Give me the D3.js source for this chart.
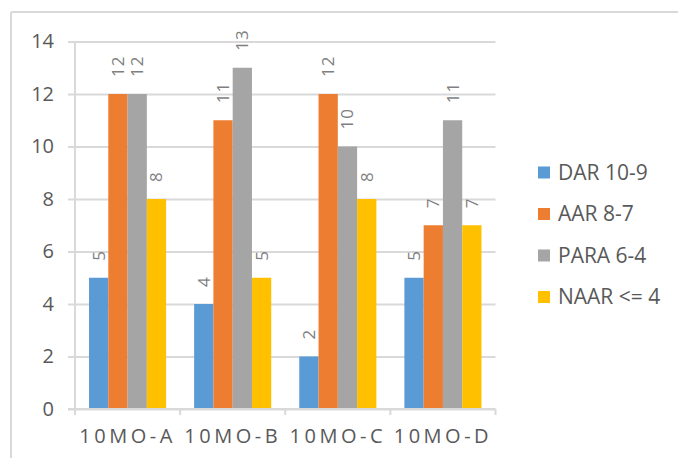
<!DOCTYPE html>
<html>
<head>
<meta charset="utf-8">
<script src="https://cdn.jsdelivr.net/npm/d3@7"></script>
<style>
  html, body { margin: 0; padding: 0; background: #fff; }
  svg { display: block; }
</style>
</head>
<body>
<svg id="chart" width="678" height="458"></svg>
<script>
// Groups along the x axis
const categories = ["10MO-A", "10MO-B", "10MO-C", "10MO-D"];
// Series names (legend order)
const seriesNames = ["DAR 10-9", "AAR 8-7", "PARA 6-4", "NAAR <= 4"];
// Counts per series, one value per category
const darValues  = [5, 4, 2, 5];
const aarValues  = [12, 11, 12, 7];
const paraValues = [12, 13, 10, 11];
const naarValues = [8, 5, 8, 7];
// Y axis ticks
const yTicks = [0, 2, 4, 6, 8, 10, 12, 14];

const seriesColors = ["#5B9BD5", "#ED7D31", "#A5A5A5", "#FFC000"];
const seriesValues = [darValues, aarValues, paraValues, naarValues];

const svg = d3.select("#chart");
const textColor = "#595959";
const gridColor = "#D9D9D9";
const font = "'Open Sans', sans-serif";

// outer frame (top and left edges)
svg.append("line").attr("x1", 11).attr("x2", 678).attr("y1", 12).attr("y2", 12)
  .attr("stroke", gridColor).attr("stroke-width", 2);
svg.append("line").attr("x1", 11).attr("x2", 11).attr("y1", 12).attr("y2", 458)
  .attr("stroke", gridColor).attr("stroke-width", 2);

const plot = { left: 75, right: 495.5, top: 41.5, bottom: 409 };

const x0 = d3.scaleBand().domain(categories).range([plot.left, plot.right]).padding(0);
const x1 = d3.scaleBand().domain(seriesNames).range([0, x0.bandwidth()])
  .paddingInner(0).paddingOuter(0.727);
const y = d3.scaleLinear().domain([0, 14]).range([plot.bottom, plot.top]);

// horizontal gridlines + y axis
const yAxis = d3.axisLeft(y).tickValues(yTicks).tickSize(-(plot.right - plot.left)).tickPadding(14);
const gy = svg.append("g").attr("transform", `translate(${plot.left},0)`).call(yAxis);
gy.select(".domain").remove();
gy.selectAll(".tick line").attr("stroke", gridColor).attr("stroke-width", 2)
  .attr("x1", -7);
gy.selectAll(".tick text").attr("fill", textColor)
  .style("font-family", font).style("font-size", "20px")
  .attr("x", -21);

// vertical axis line
svg.append("line").attr("x1", plot.left).attr("x2", plot.left)
  .attr("y1", plot.top).attr("y2", plot.bottom + 6)
  .attr("stroke", gridColor).attr("stroke-width", 2);

// bars
const groups = svg.append("g").selectAll("g").data(categories).join("g")
  .attr("transform", d => `translate(${x0(d)},0)`);

groups.each(function(cat, ci) {
  const g = d3.select(this);
  seriesNames.forEach((s, si) => {
    const v = seriesValues[si][ci];
    g.append("rect")
      .attr("x", x1(s)).attr("width", x1.bandwidth())
      .attr("y", y(v)).attr("height", y(0) - y(v))
      .attr("fill", seriesColors[si]);
  });
});

// bottom axis with category separators
const xAxis = d3.axisBottom(x0).tickSize(0).tickPadding(20);
const gx = svg.append("g").attr("transform", `translate(0,${plot.bottom})`).call(xAxis);
gx.select(".domain").remove();
gx.selectAll(".tick text").attr("fill", textColor)
  .style("font-family", font).style("font-size", "20px")
  .style("letter-spacing", "3.5px");
svg.append("line").attr("x1", plot.left - 7).attr("x2", plot.right)
  .attr("y1", plot.bottom).attr("y2", plot.bottom)
  .attr("stroke", gridColor).attr("stroke-width", 2);
const bounds = categories.map(c => x0(c)).concat([x0(categories[categories.length - 1]) + x0.bandwidth()]);
svg.append("g").selectAll("line").data(bounds).join("line")
  .attr("x1", d => d).attr("x2", d => d)
  .attr("y1", plot.bottom).attr("y2", plot.bottom + 6)
  .attr("stroke", gridColor).attr("stroke-width", 2);

// rotated value labels
groups.each(function(cat, ci) {
  const g = d3.select(this);
  seriesNames.forEach((s, si) => {
    const v = seriesValues[si][ci];
    const cx = x1(s) + x1.bandwidth() / 2;
    const cy = y(v) - 17;
    g.append("text")
      .attr("transform", `translate(${cx},${cy}) rotate(-90)`)
      .attr("dy", "0.35em")
      .attr("text-anchor", "start")
      .attr("fill", "#7F7F7F")
      .style("font-family", font).style("font-size", "17px")
      .style("letter-spacing", "1px")
      .text(v);
  });
});

// legend
const legend = svg.append("g").selectAll("g").data(seriesNames).join("g")
  .attr("transform", (d, i) => `translate(538,${172.5 + i * 41.5})`);
legend.append("rect").attr("x", 0).attr("y", -6).attr("width", 12).attr("height", 12)
  .attr("fill", (d, i) => seriesColors[i]);
legend.append("text").attr("x", 20).attr("dy", "0.35em")
  .attr("fill", textColor)
  .style("font-family", font).style("font-size", "21px")
  .text(d => d);
</script>
</body>
</html>
